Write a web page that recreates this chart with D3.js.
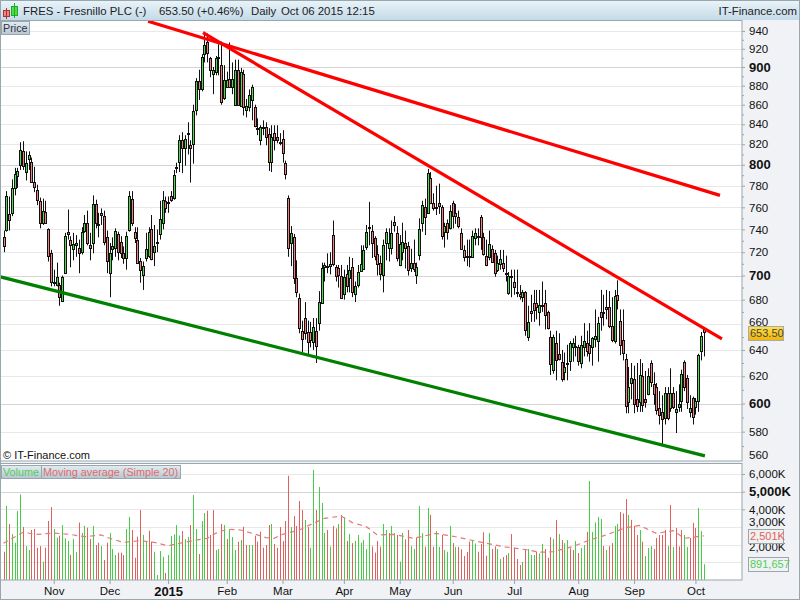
<!DOCTYPE html>
<html>
<head>
<meta charset="utf-8">
<script src="https://cdn.jsdelivr.net/npm/d3@7"></script>
<style>
    html, body { margin: 0; padding: 0; background: #f0f2f5; }
    text { font-family: "Liberation Sans", Arial, sans-serif; }
</style>
</head>
<body>
<svg id="chart" width="800" height="600" style="display:block"></svg>
<script>
// Prezzi giornalieri FRES (scala log)
const opens = [
733,739,754,755,778,789,799,813,793,805,
803,784,776,766,746,756,740,719,695,692,
692,679,702,738,731,723,726,724,720,739,
746,726,728,763,744,753,752,733,702,722,
724,736,729,719,715,739,768,738,731,712,
700,715,717,740,720,728,736,746,766,764,
770,768,797,802,824,816,830,819,821,855,885,
877,914,928,910,893,895,911,902,867,879,
887,879,860,897,859,892,855,857,865,858,
836,824,837,837,830,802,831,827,821,825,
802,769,728,733,698,681,655,665,654,654,
646,655,661,677,707,707,708,735,707,706,
700,685,701,698,707,684,692,704,706,725,
742,739,732,718,711,700,728,724,724,744,
737,709,720,728,725,707,711,700,717,746,
760,755,787,764,759,764,760,738,746,742,
764,755,751,737,722,716,716,716,733,734,
751,733,717,716,723,719,705,710,711,702,
686,700,695,685,685,682,686,650,671,677,
677,670,675,677,670,650,625,645,637,631,
623,629,631,642,643,642,630,642,645,644,
642,649,647,670,669,674,674,659,647,684,
663,648,633,601,615,618,603,601,620,603,
607,630,614,612,597,594,590,608,597,608,
594,598,602,631,619,594,604,598,602,639,656];
const closes = [
725,770,749,778,791,794,814,798,802,809,
784,779,767,746,757,746,716,694,694,699,
682,699,734,736,727,727,728,720,738,746,
728,723,763,746,745,755,729,712,719,725,
739,720,719,715,734,770,746,733,711,704,
708,723,738,714,725,729,749,767,760,765,
766,790,798,824,816,825,831,816,854,885,877,
911,924,916,897,897,910,910,863,886,886,
879,887,897,860,895,857,859,870,879,839,
835,837,836,827,802,827,824,824,822,811,
791,724,737,698,686,657,649,653,646,648,
658,643,678,706,709,708,710,710,699,700,
682,699,691,705,686,691,703,710,722,738,
741,728,716,709,702,726,738,728,737,747,
715,727,729,724,704,711,706,707,740,762,
751,792,764,759,760,761,734,743,738,757,
752,752,743,723,716,717,717,734,737,733,
733,718,709,727,712,702,711,714,707,701,
700,699,691,686,683,686,655,662,669,671,
674,676,676,667,657,629,650,632,633,618,
627,630,645,645,642,631,644,647,639,638,
649,651,661,666,670,672,659,648,683,680,
644,638,598,612,619,600,598,621,599,601,
620,616,607,595,592,589,608,590,608,598,
596,600,622,612,601,597,590,602,636,651,653.5];
const highs = [
739,775,770,786,797,797,822,823,813,813,
807,798,781,769,768,766,741,722,705,711,
694,700,737,758,734,737,735,731,742,753,
757,737,771,767,755,759,757,739,728,733,
741,738,734,725,738,775,775,742,742,715,
712,737,742,753,744,740,766,775,770,770,
775,795,802,829,832,829,842,824,860,888,897,
914,939,937,911,900,912,925,928,902,895,
927,905,908,908,899,897,866,876,881,860,
846,839,844,842,836,839,839,839,831,834,
804,771,743,736,713,685,663,678,663,662,
665,665,687,711,711,719,720,748,709,709,
709,705,709,716,715,695,709,726,726,744,
765,744,734,726,717,731,741,741,748,752,
743,735,746,739,729,723,731,711,750,766,
768,796,793,773,780,782,762,746,749,762,
766,763,757,741,726,731,731,739,741,741,
753,737,731,739,726,722,717,722,722,717,
703,705,705,705,692,688,687,675,684,688,
688,688,695,688,671,655,652,655,653,640,
638,644,647,649,651,644,651,661,655,661,
650,672,666,688,684,688,687,682,688,696,
672,672,637,627,630,628,630,633,630,624,
626,632,623,615,609,606,612,612,626,612,
609,614,625,632,621,606,605,604,637,654,657];
const lows = [
720,738,739,752,771,778,795,795,785,795,
784,774,762,741,744,745,712,691,691,691,
675,678,702,731,707,713,716,702,718,737,
726,713,719,741,733,744,726,702,682,713,
716,713,715,710,705,738,743,728,710,694,
688,712,715,713,708,720,731,740,755,755,
765,767,792,793,792,799,810,783,801,849,865,
874,905,905,889,871,891,891,860,865,878,
878,871,859,859,858,849,847,853,844,837,
829,819,829,819,794,793,814,821,819,802,
786,716,708,693,682,653,638,648,636,642,
640,630,655,677,695,702,701,708,695,690,
681,680,686,686,682,678,690,703,705,722,
726,715,713,700,696,686,713,712,718,738,
712,708,713,706,700,703,703,693,713,738,
735,755,763,757,753,754,731,724,731,740,
741,745,741,722,712,708,707,715,726,726,
722,717,708,713,711,699,703,705,703,695,
684,682,684,682,680,678,651,647,662,662,
664,659,670,656,656,621,622,617,632,616,
617,617,624,631,635,628,626,635,635,631,
628,642,631,655,659,664,657,646,645,672,
636,632,593,593,603,593,594,594,594,597,
606,612,599,592,585,570,585,588,594,596,
579,594,594,609,596,590,585,592,594,632,635];

// Volumi in migliaia e colore della barra (g = verde, r = rosso)
const volumes = [
1600,4190,3170,2600,2110,3900,4850,3000,1920,1700,
2830,2890,1830,1920,1040,1830,3340,4130,2890,2400,
2510,3110,2360,2210,1415,2320,1585,3250,2660,3060,
2960,2320,3060,1980,2110,1920,1130,2110,2660,1755,
1415,1550,1550,1415,2890,3570,2830,1260,2450,3960,
2550,2170,2790,2170,1600,280,1640,1320,400,1415,
2490,2580,3110,2510,2770,2320,2430,3110,4810,2890,
1470,3340,3790,3920,2550,3960,1700,1755,3170,3110,
2320,2850,2430,1700,2170,2260,3020,1980,1980,1980,
2510,2170,2740,1830,1980,3110,
3170,2040,1830,3000,2200,3340,5900,3000,3620,3060,
4470,3960,3400,3000,1830,6230,3960,5260,4360,2660,
2830,1890,3060,2920,3170,3680,3530,2210,2600,2090,
2210,2550,2110,2260,1755,2660,1900,1550,2210,1890,
3170,2830,2660,3060,2660,2550,1040,2660,2300,2830,
1920,1755,2400,4190,2660,1890,4080,3680,1890,2770,
1870,2550,1700,1600,3060,2090,1870,1870,1740,1360,
1585,2170,2260,2060,1600,2040,2700,1380,2660,1755,
1900,1755,1190,1300,1415,1530,2600,1830,1190,850,
1020,1700,1755,1415,1415,1600,1510,
2040,1755,1260,2430,2320,3400,2600,2260,2090,2260,
1790,1700,2210,1530,1810,1980,2720,5600,2720,3260,
3570,3450,1920,1700,1920,2090,3060,3170,3850,3770,
4580,3680,3400,3060,2550,2830,2170,1360,1810,1920,1755,
2380,2550,2550,2830,1920,4250,1870,2940,1900,2830,
2550,1870,2380,3230,2940,4080,2770,891.657];
const volumeColors =
"rgrggggrgg" + "rrrrgrrrgg" + "rgggrggrgg" + "rrgrrgrrgg" + "grrrggrrrr" +
"ggrrggggrg" + "ggggrggrgg" + "rggrrrggrg" + "rgggrgrrgg" + "rrrrrr" +
"grrrrrrgrr" + "rrgrggrggg" + "rgrrgrgrgr" + "ggggggrrrr" + "ggrggrggrr" +
"ggrggrgrrg" + "grgggrgrrr" + "rrggrrrrgr" + "rggrrgrrrr" + "grgggrg" +
"grrrgrgrgg" + "rrgrggrggg" + "ggrgrrggrr" + "rgrrrgrggg" + "rr" +
"rrrgrgrrrg" + "grrrgggg";

// Media mobile semplice a 20 periodi, letta a intervalli
const maIndex = [0,2,7,12,18,24,29,35,38,43,49,54,59,63,68,73,76,80,85,90,94,
    97,100,106,111,115,121,125,130,134,140,147,155,162,172,179,188,192,
    197,204,210,216,223,228,234,240,244,251];
const maValues = [2075,2260,2700,2580,2660,2580,2450,2550,2360,2130,2230,2130,1940,2075,2230,2360,2640,2870,2830,2600,2400,
    2360,2580,2830,3210,3490,3620,3250,3020,2550,2580,2360,2640,2450,2110,1890,1700,1570,
    1600,1890,2260,2550,2960,3090,2640,2790,2360,2501];

const priceTicks = [940,920,900,880,860,840,820,800,780,760,740,720,700,680,660,640,620,600,580,560];
const priceMinor = [930,910,890,870,850,830,810,790,770,750,730,710,690,670,650,630,610,590,570];
const priceBold = [900,800,700,600];
const volumeTicks = [6000,5000,4000,3000,2000,1000];
const monthIndex = [18,38,59,80,100,122,142,161,183,206,226,248];
const monthLabels = ["Nov","Dec","2015","Feb","Mar","Apr","May","Jun","Jul","Aug","Sep","Oct"];

// Linee di tendenza: [indice, prezzo]
const upperLine = [[51.8,951],[256.8,771]];
const middleLine = [[71.5,938],[257.5,648.5]];
const lowerLine = [[-1.25,699],[251.4,563.3]];

const svg = d3.select("#chart");
const paneLeft = 1, paneRight = 742;
const priceTop = 21, priceBottom = 461;
const volumeTop = 464, volumeBottom = 580;

let xScale = d3.scaleLinear().domain([0, 251]).range([3.5, 703.8]);
let yPrice = d3.scaleLog().domain([900, 600]).range([67, 403.5]);
let yVolume = d3.scaleLinear().domain([0, 6000]).range([volumeBottom, 474]);

function px(v) { return Math.round(v) + 0.5; }

let defs = svg.append("defs");
function gradient(id, top, bottom) {
    let g = defs.append("linearGradient").attr("id", id).attr("x1", 0).attr("x2", 0).attr("y1", 0).attr("y2", 1);
    g.append("stop").attr("offset", "0%").attr("stop-color", top);
    g.append("stop").attr("offset", "100%").attr("stop-color", bottom);
}
gradient("headerFill", "#e9f3f9", "#c4dae8");
gradient("buttonFill", "#e3edf2", "#b4c6d0");
gradient("tagFill", "#ffe24d", "#f0b400");
defs.append("clipPath").attr("id", "priceClip").append("rect")
    .attr("x", paneLeft).attr("y", priceTop).attr("width", paneRight - paneLeft).attr("height", priceBottom - priceTop);
defs.append("clipPath").attr("id", "volumeClip").append("rect")
    .attr("x", paneLeft).attr("y", volumeTop).attr("width", paneRight - paneLeft).attr("height", volumeBottom - volumeTop);

// Sfondo e pannelli
svg.append("rect").attr("width", 800).attr("height", 600).attr("fill", "#f0f2f5");
svg.append("rect").attr("x", paneLeft).attr("y", priceTop).attr("width", paneRight - paneLeft)
    .attr("height", priceBottom - priceTop).attr("fill", "white");
svg.append("rect").attr("x", paneLeft).attr("y", volumeTop).attr("width", paneRight - paneLeft)
    .attr("height", volumeBottom - volumeTop).attr("fill", "white");

// Griglia prezzo
svg.append("g").attr("clip-path", "url(#priceClip)").selectAll("line")
    .data(priceTicks).enter().append("line")
    .attr("x1", paneLeft).attr("x2", paneRight)
    .attr("y1", d => px(yPrice(d))).attr("y2", d => px(yPrice(d)))
    .attr("stroke", d => priceBold.includes(d) ? "#d4d4d4" : "#e8e8e8");

// Griglia volume
svg.append("g").selectAll("line")
    .data(volumeTicks).enter().append("line")
    .attr("x1", paneLeft).attr("x2", paneRight)
    .attr("y1", d => px(yVolume(d))).attr("y2", d => px(yVolume(d)))
    .attr("stroke", d => d == 5000 ? "#d4d4d4" : "#e8e8e8");

// Candele
let candles = d3.range(opens.length).map(function(i) {
    return {i: i, open: opens[i], close: closes[i], high: highs[i], low: lows[i]};
});
let candleLayer = svg.append("g").attr("clip-path", "url(#priceClip)");
candleLayer.selectAll("line").data(candles).enter().append("line")
    .attr("x1", d => px(xScale(d.i))).attr("x2", d => px(xScale(d.i)))
    .attr("y1", d => yPrice(d.high)).attr("y2", d => yPrice(d.low))
    .attr("stroke", "#111");
candleLayer.selectAll("rect").data(candles).enter().append("rect")
    .attr("x", d => px(xScale(d.i)) - 1).attr("width", 2)
    .attr("y", d => px(yPrice(Math.max(d.open, d.close))))
    .attr("height", d => Math.max(1, Math.round(yPrice(Math.min(d.open, d.close)) - yPrice(Math.max(d.open, d.close)))))
    .attr("fill", d => d.close >= d.open ? "#4ddc4d" : "#f08080")
    .attr("stroke", "#111");

// Trendline
function trendPath(points) {
    return d3.line().x(p => xScale(p[0])).y(p => yPrice(p[1]))(points);
}
let trendLayer = svg.append("g").attr("clip-path", "url(#priceClip)");
[[upperLine, "#ff0000"], [middleLine, "#ff0000"], [lowerLine, "#008000"]].forEach(function(t) {
    trendLayer.append("path").attr("d", trendPath(t[0])).attr("fill", "none")
        .attr("stroke", t[1]).attr("stroke-width", 3.2);
});

svg.append("text").attr("x", 3).attr("y", 459).attr("font-size", 11).attr("fill", "#111").text("© IT-Finance.com");

// Volumi
let volumeLayer = svg.append("g").attr("clip-path", "url(#volumeClip)");
volumeLayer.selectAll("line").data(volumes).enter().append("line")
    .attr("x1", (d, i) => px(xScale(i))).attr("x2", (d, i) => px(xScale(i)))
    .attr("y1", d => yVolume(d)).attr("y2", yVolume(0))
    .attr("stroke", (d, i) => volumeColors[i] == "g" ? "#48cc48" : "#e06060");

// Media mobile volumi
volumeLayer.append("path")
    .attr("d", d3.line().x((d, i) => xScale(maIndex[i])).y(d => yVolume(d))(maValues))
    .attr("fill", "none").attr("stroke", "#e47a7a").attr("stroke-dasharray", "5,4").attr("stroke-width", 1.2);

// Cornici
const frame = "#98a6ae";
[[paneLeft, priceTop, paneRight - paneLeft, priceBottom - priceTop],
 [paneLeft, volumeTop, paneRight - paneLeft, volumeBottom - volumeTop]].forEach(function(r) {
    svg.append("rect").attr("x", r[0] - 0.5).attr("y", r[1] - 0.5).attr("width", r[2] + 0.5).attr("height", r[3] + 0.5)
        .attr("fill", "none").attr("stroke", frame);
});
svg.append("rect").attr("x", 0.5).attr("y", 0.5).attr("width", 799).attr("height", 599)
    .attr("fill", "none").attr("stroke", frame);

// Assi
function styleAxis(g) {
    g.select(".domain").attr("stroke", frame);
    g.selectAll(".tick line").attr("stroke", frame);
    g.selectAll("text").attr("font-family", '"Liberation Sans", Arial, sans-serif').attr("fill", "#111");
}
let minorAxis = svg.append("g").attr("transform", `translate(${paneRight},0)`)
    .call(d3.axisRight(yPrice).tickValues(priceMinor).tickFormat("").tickSize(2));
styleAxis(minorAxis);
minorAxis.select(".domain").remove();

let priceAxis = svg.append("g").attr("transform", `translate(${paneRight},0)`)
    .call(d3.axisRight(yPrice).tickValues(priceTicks.filter(d => d != 560 && d != 660)).tickFormat(d3.format("d")).tickSize(3).tickPadding(4));
styleAxis(priceAxis);
priceAxis.select(".domain").remove();
priceAxis.selectAll("text")
    .attr("font-size", d => priceBold.includes(d) ? 13 : 11.5)
    .attr("font-weight", d => priceBold.includes(d) ? "bold" : "normal");
// 560 sta sul bordo inferiore e viene spostato in alto; 660 e coperto dal cartellino
svg.append("text").attr("x", 749).attr("y", 459).attr("font-size", 11.5).attr("fill", "#111").text("560");
svg.append("text").attr("x", 749).attr("y", 326).attr("font-size", 11.5).attr("fill", "#111").text("660");

let volumeAxis = svg.append("g").attr("transform", `translate(${paneRight},0)`)
    .call(d3.axisRight(yVolume).tickValues(volumeTicks.filter(d => d != 1000 && d != 2000 && d != 3000)).tickFormat(d => d3.format(",")(d) + "K").tickSize(3).tickPadding(4));
styleAxis(volumeAxis);
volumeAxis.select(".domain").remove();
volumeAxis.selectAll("text")
    .attr("font-size", d => d == 5000 ? 13 : 11.5)
    .attr("font-weight", d => d == 5000 ? "bold" : "normal");
// 3,000K e 2,000K restano in parte sotto i cartellini, 1,000K e coperto
[[3000, "3,000K"], [2000, "2,000K"]].forEach(function(v) {
    svg.append("text").attr("x", 749).attr("y", yVolume(v[0]) + (v[0] == 3000 ? -1 : 6)).attr("font-size", 11.5).attr("fill", "#111").text(v[1]);
});

let dateAxis = svg.append("g").attr("transform", `translate(0,${volumeBottom})`)
    .call(d3.axisBottom(xScale).tickValues(monthIndex).tickFormat((d, i) => monthLabels[i]).tickSize(4).tickPadding(3));
styleAxis(dateAxis);
dateAxis.select(".domain").remove();
dateAxis.selectAll("text")
    .attr("font-size", (d, i) => monthLabels[i] == "2015" ? 13 : 11.5)
    .attr("font-weight", (d, i) => monthLabels[i] == "2015" ? "bold" : "normal");

// Intestazione
svg.append("rect").attr("x", 1).attr("y", 1).attr("width", 798).attr("height", 19).attr("fill", "url(#headerFill)");
svg.append("rect").attr("x", 3.5).attr("y", 10.5).attr("width", 6).attr("height", 6).attr("fill", "#f08080").attr("stroke", "#a33");
svg.append("line").attr("x1", 6.5).attr("x2", 6.5).attr("y1", 8).attr("y2", 19).attr("stroke", "#a33");
svg.append("rect").attr("x", 11.5).attr("y", 6.5).attr("width", 6).attr("height", 9).attr("fill", "#4ddc4d").attr("stroke", "#2a2");
svg.append("line").attr("x1", 14.5).attr("x2", 14.5).attr("y1", 3).attr("y2", 18).attr("stroke", "#2a2");

const headerTexts = [[23, "FRES - Fresnillo PLC (-)"], [159, "653.50 (+0.46%)"], [251, "Daily"], [281, "Oct 06 2015 12:15"]];
headerTexts.forEach(function(h) {
    svg.append("text").attr("x", h[0]).attr("y", 15).attr("font-size", 11.4).attr("fill", "#222").text(h[1]);
});
svg.append("text").attr("x", 797).attr("y", 15).attr("text-anchor", "end").attr("font-size", 11.4).attr("fill", "#222").text("IT-Finance.com");

// Pulsanti legenda
function button(x, y, w, label, color) {
    svg.append("rect").attr("x", x + 0.5).attr("y", y + 0.5).attr("width", w).attr("height", 13)
        .attr("fill", "url(#buttonFill)").attr("stroke", frame);
    svg.append("text").attr("x", x + 2).attr("y", y + 11).attr("font-size", 10.8).attr("fill", color).text(label);
}
button(1, 21, 28, "Price", "#334");
button(1, 465, 40, "Volume", "#55cc55");
button(41, 465, 139, "Moving average (Simple 20)", "#e06a6a");

// Etichette a destra
function tag(x, y, w, h, label, fill, color, border) {
    svg.append("rect").attr("x", x + 0.5).attr("y", y + 0.5).attr("width", w).attr("height", h)
        .attr("fill", fill).attr("stroke", border);
    svg.append("text").attr("x", x + 2).attr("y", y + h - 3).attr("font-size", 11).attr("fill", color).text(label);
}
tag(748, 326, 35, 14, "653.50", "url(#tagFill)", "#444", "#aaa");
tag(748, 529, 35, 14, "2,501K", "#f0f0f0", "#e06060", "#98a6ae");
tag(748, 557, 40, 14, "891,657", "#f0f2f5", "#55cc55", "#98a6ae");
</script>
</body>
</html>
